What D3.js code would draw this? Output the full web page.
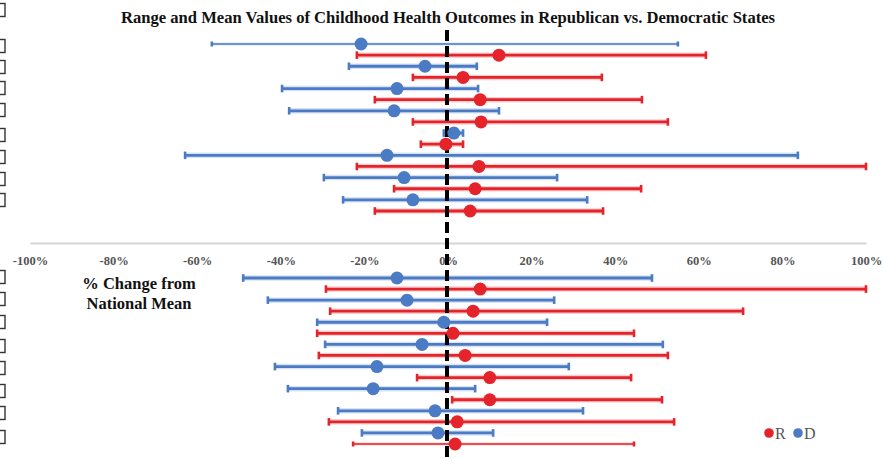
<!DOCTYPE html>
<html>
<head>
<meta charset="utf-8">
<script src="https://cdn.jsdelivr.net/npm/d3@7"></script>
<style>
  html, body { margin: 0; padding: 0; background: #fff; }
  svg { display: block; }
</style>
</head>
<body>
<svg id="chart" width="884" height="458"></svg>
<script>
// % change from national mean, per outcome: minimum, mean and maximum state value
const upperDemMin  = [-56.5, -23.7, -39.7, -38.0, -1.0, -62.9, -29.7, -25.1];
const upperDemMean = [-20.8,  -5.5, -12.2, -12.9,  1.4, -14.6, -10.5,  -8.4];
const upperDemMax  = [ 55.0,   6.9,   7.2,  12.2,  3.6,  83.7,  26.1,  33.3];
const upperRepMin  = [-21.8,  -8.4, -17.5,  -8.4, -6.5, -21.8, -12.9, -17.5];
const upperRepMean = [ 12.2,   3.6,   7.7,   7.9, -0.5,   7.4,   6.5,   5.3];
const upperRepMax  = [ 61.7,  36.8,  46.4,  52.6,  3.6, 100.0,  46.2,  37.1];

const lowerDemMin  = [-49.0, -43.1, -31.3, -29.4, -41.4, -38.3, -26.3, -20.6];
const lowerDemMean = [-12.2,  -9.8,  -1.0,  -6.2, -17.0, -17.9,  -3.1,  -2.4];
const lowerDemMax  = [ 48.8,  25.4,  23.7,  51.4,  28.9,   6.5,  32.3,  10.8];
const lowerRepMin  = [-29.2, -28.2, -31.3, -30.9,  -7.4,   1.0, -28.5, -22.7];
const lowerRepMean = [  7.7,   6.0,   1.2,   4.1,  10.0,  10.0,   2.2,   1.7];
const lowerRepMax  = [100.0,  70.6,  44.5,  52.6,  43.8,  51.2,  54.1,  44.5];

const tickValues = [-100, -80, -60, -40, -20, 0, 20, 40, 60, 80, 100];
const parties = ["R", "D"];
const partyColors = { R: "#e5232a", D: "#4a7bc4" };

// thin range lines (rendered lighter in the source figure)
const thinRows = { upper: ["D0"], lower: ["R7"] };

const svg = d3.select("#chart");
const serif = "'Liberation Serif', 'Times New Roman', serif";

const x = d3.scaleLinear().domain([-100, 100]).range([30, 866]);

// Title
svg.append("text")
  .attr("x", 448).attr("y", 23)
  .attr("text-anchor", "middle")
  .attr("font-family", serif).attr("font-weight", "bold")
  .attr("font-size", 16.6).attr("fill", "#111")
  .text("Range and Mean Values of Childhood Health Outcomes in Republican vs. Democratic States");

// Category markers at the left margin (labels fall outside the frame)
const markerY = [10, 46, 67, 88, 110, 135, 157, 179, 200, 277, 299, 322, 346, 368, 391, 413, 437];
svg.append("g").selectAll("rect").data(markerY).join("rect")
  .attr("x", -6).attr("y", d => d - 6.5)
  .attr("width", 11).attr("height", 13)
  .attr("fill", "none").attr("stroke", "#333").attr("stroke-width", 1.4);

// x axis
const axis = d3.axisBottom(x)
  .tickValues(tickValues)
  .tickSize(0)
  .tickPadding(13)
  .tickFormat(d => d + "%");
const axisG = svg.append("g").attr("transform", "translate(0,243)").call(axis);
axisG.attr("font-family", serif);
axisG.select(".domain").attr("stroke", "#d6d6d6").attr("stroke-width", 2);
axisG.selectAll("text")
  .attr("font-family", serif).attr("font-weight", "bold")
  .attr("font-size", 12.5).attr("fill", "#555");

// axis caption
const cap = svg.append("text")
  .attr("text-anchor", "middle")
  .attr("font-family", serif).attr("font-weight", "bold")
  .attr("font-size", 16.5).attr("fill", "#111");
cap.append("tspan").attr("x", 139).attr("y", 289).text("% Change from");
cap.append("tspan").attr("x", 139).attr("y", 309).text("National Mean");

function buildRows(dMin, dMean, dMax, rMin, rMean, rMax) {
  const rows = [];
  dMin.forEach((_, i) => {
    rows.push({ key: "D" + i, party: "D", min: dMin[i], mean: dMean[i], max: dMax[i] });
    rows.push({ key: "R" + i, party: "R", min: rMin[i], mean: rMean[i], max: rMax[i] });
  });
  return rows;
}

const sections = [
  { name: "upper", range: [44, 211],
    rows: buildRows(upperDemMin, upperDemMean, upperDemMax, upperRepMin, upperRepMean, upperRepMax) },
  { name: "lower", range: [278, 444],
    rows: buildRows(lowerDemMin, lowerDemMean, lowerDemMax, lowerRepMin, lowerRepMean, lowerRepMax) }
];

const lineLayer = svg.append("g");
const zeroLayer = svg.append("g");
const dotLayer = svg.append("g");

sections.forEach(sec => {
  const y = d3.scalePoint().domain(sec.rows.map(r => r.key)).range(sec.range);
  const isThin = r => thinRows[sec.name].includes(r.key);

  const g = lineLayer.append("g");
  // soft halo behind each range line
  g.selectAll("line.halo").data(sec.rows).join("line")
    .attr("class", "halo")
    .attr("x1", d => x(d.min)).attr("x2", d => x(d.max))
    .attr("y1", d => y(d.key)).attr("y2", d => y(d.key))
    .attr("stroke", d => partyColors[d.party])
    .attr("stroke-opacity", 0.22)
    .attr("stroke-width", d => isThin(d) ? 3 : 5.5);
  g.selectAll("line.range").data(sec.rows).join("line")
    .attr("class", "range")
    .attr("x1", d => x(d.min)).attr("x2", d => x(d.max))
    .attr("y1", d => y(d.key)).attr("y2", d => y(d.key))
    .attr("stroke", d => partyColors[d.party])
    .attr("stroke-width", d => isThin(d) ? 1.4 : 2.8);
  // end caps
  ["min", "max"].forEach(end => {
    g.selectAll("line.cap-" + end).data(sec.rows).join("line")
      .attr("class", "cap-" + end)
      .attr("x1", d => x(d[end])).attr("x2", d => x(d[end]))
      .attr("y1", d => y(d.key) - (isThin(d) ? 2.5 : 3.8))
      .attr("y2", d => y(d.key) + (isThin(d) ? 2.5 : 3.8))
      .attr("stroke", d => partyColors[d.party])
      .attr("stroke-width", 2.6);
  });

  dotLayer.append("g").selectAll("circle").data(sec.rows).join("circle")
    .attr("cx", d => x(d.mean)).attr("cy", d => y(d.key))
    .attr("r", 6.5)
    .attr("fill", d => partyColors[d.party]);
});

// zero reference line
zeroLayer.append("line")
  .attr("x1", x(0) - 1).attr("x2", x(0) - 1)
  .attr("y1", 30).attr("y2", 458)
  .attr("stroke", "#000").attr("stroke-width", 4)
  .attr("stroke-dasharray", "11,5");

// legend
const legend = svg.append("g").attr("transform", "translate(769,433)");
parties.forEach((p, i) => {
  const lg = legend.append("g").attr("transform", `translate(${i * 29},0)`);
  lg.append("circle").attr("cx", 0).attr("cy", 0).attr("r", 4.8).attr("fill", partyColors[p]);
  lg.append("text").attr("x", 6).attr("y", 5.5)
    .attr("font-family", serif).attr("font-size", 16).attr("fill", "#555")
    .text(p);
});
</script>
</body>
</html>
